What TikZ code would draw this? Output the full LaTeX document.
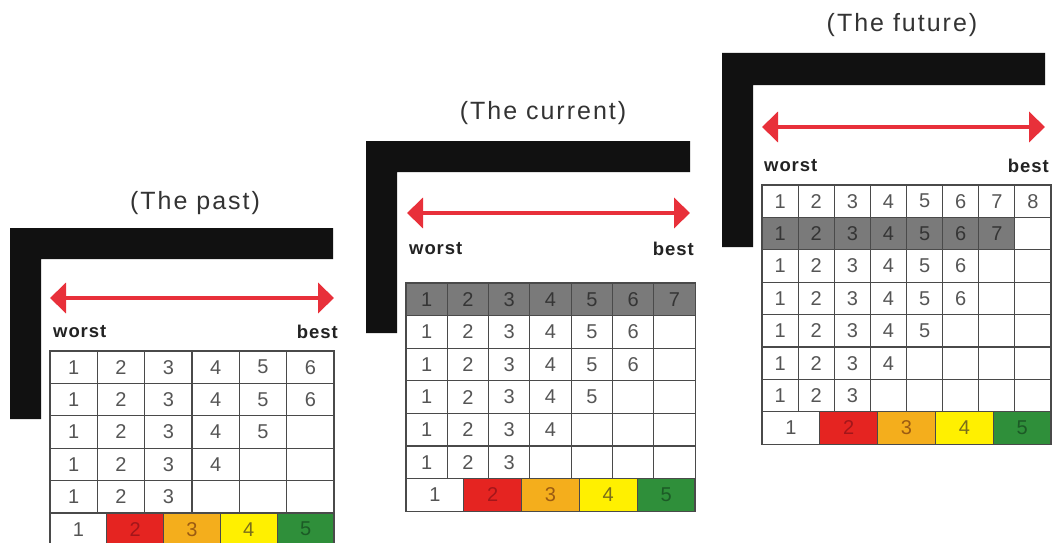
\documentclass[tikz,border=0pt]{standalone}
\usepackage{fontspec}
\setmainfont{Liberation Sans}
\usetikzlibrary{arrows.meta}
\definecolor{gridc}{HTML}{4A4A4A}
\definecolor{numc}{HTML}{555555}
\definecolor{titc}{HTML}{333333}
\definecolor{labc}{HTML}{222222}
\definecolor{lbar}{HTML}{111111}
\definecolor{arrc}{HTML}{E8303A}
\definecolor{cr}{HTML}{E52421}
\definecolor{crt}{HTML}{A3161A}
\definecolor{co}{HTML}{F4AE1C}
\definecolor{cot}{HTML}{9B5B12}
\definecolor{cy}{HTML}{FFF000}
\definecolor{cyt}{HTML}{7A6E1A}
\definecolor{cg}{HTML}{2F8F3A}
\definecolor{cgt}{HTML}{1C5A26}
\definecolor{cgray}{HTML}{7A7A7A}
\definecolor{cgrayt}{HTML}{353535}
\begin{document}
\begin{tikzpicture}[x=1pt,y=-1pt,
  cell/.style={draw=gridc, line width=1.1pt, inner sep=0pt, outer sep=0pt, text=numc, font=\fontsize{20}{20}\selectfont},
  graycell/.style={cell, fill=cgray, text=cgrayt},
  title/.style={text=titc, inner sep=0pt, font=\fontsize{25}{25}\selectfont\addfontfeature{LetterSpace=8}},
  lab/.style={text=labc, inner sep=0pt, font=\bfseries\fontsize{18.5}{18.5}\selectfont\addfontfeature{LetterSpace=5}},
  rarrow/.style={draw=arrc, line width=4pt, {Triangle[width=30pt,length=16pt,fill=arrc]}-{Triangle[width=30pt,length=16pt,fill=arrc]}}
]
\useasboundingbox (0,0) rectangle (1052,543);
\clip (0,0) rectangle (1052,543);

% ---------- The past ----------
\node[title] (tpast) at (195,203) {(The past)};
\fill[lbar] (10,228) -- (333,228) -- (333,259) -- (41,259) -- (41,419) -- (10,419) -- cycle;
\coordinate (pa1) at (50,298);
\coordinate (pa2) at (334,298);
\draw[rarrow] (pa1) -- (pa2);
\node[lab, anchor=west] (pworst) at (53,332) {worst};
\node[lab, anchor=east] (pbest) at (338,332) {best};
\foreach \n [count=\r] in {6,6,5,4,3} {
  \foreach \c in {1,...,6} {
    \node[cell, minimum width=47.33, minimum height=32.4] (p\r-\c)
      at ({50+(\c-0.5)*47.33},{351+(\r-0.5)*32.4}) {\ifnum\c>\n\relax\else\c\fi};
  }
}
\foreach \f/\t [count=\i] in {white/numc, cr/crt, co/cot, cy/cyt, cg/cgt} {
  \node[cell, fill=\f, text=\t, minimum width=56.8, minimum height=32.4] (pb\i)
    at ({50+(\i-0.5)*56.8},529.2) {\i};
}

% ---------- The current ----------
\node[title] (tcur) at (543,113) {(The current)};
\fill[lbar] (366,141) -- (690,141) -- (690,172) -- (397,172) -- (397,333) -- (366,333) -- cycle;
\coordinate (ca1) at (407,213);
\coordinate (ca2) at (690,213);
\draw[rarrow] (ca1) -- (ca2);
\node[lab, anchor=west] (cworst) at (409,249) {worst};
\node[lab, anchor=east] (cbest) at (694,249) {best};
\foreach \c in {1,...,7} {
  \node[graycell, minimum width=41.3, minimum height=32.6] (c0-\c)
    at ({406+(\c-0.5)*41.3},{283+0.5*32.6}) {\c};
}
\foreach \n [count=\r] in {6,6,5,4,3} {
  \foreach \c in {1,...,7} {
    \node[cell, minimum width=41.3, minimum height=32.6] (c\r-\c)
      at ({406+(\c-0.5)*41.3},{283+(\r+0.5)*32.6}) {\ifnum\c>\n\relax\else\c\fi};
  }
}
\foreach \f/\t [count=\i] in {white/numc, cr/crt, co/cot, cy/cyt, cg/cgt} {
  \node[cell, fill=\f, text=\t, minimum width=57.8, minimum height=32.6] (cb\i)
    at ({406+(\i-0.5)*57.8},{283+6.5*32.6}) {\i};
}

% ---------- The future ----------
\node[title] (tfut) at (902,25) {(The future)};
\fill[lbar] (722,53) -- (1045,53) -- (1045,85) -- (753,85) -- (753,247) -- (722,247) -- cycle;
\coordinate (fa1) at (762,127);
\coordinate (fa2) at (1045,127);
\draw[rarrow] (fa1) -- (fa2);
\node[lab, anchor=west] (fworst) at (764,166) {worst};
\node[lab, anchor=east] (fbest) at (1049,166) {best};
\foreach \c in {1,...,8} {
  \node[cell, minimum width=36.125, minimum height=32.4] (f0-\c)
    at ({762+(\c-0.5)*36.125},{185+0.5*32.4}) {\c};
}
\foreach \c in {1,...,7} {
  \node[graycell, minimum width=36.125, minimum height=32.4] (fg-\c)
    at ({762+(\c-0.5)*36.125},{185+1.5*32.4}) {\c};
}
\node[cell, minimum width=36.125, minimum height=32.4] (fg-8)
  at ({762+7.5*36.125},{185+1.5*32.4}) {};
\foreach \n [count=\r] in {6,6,5,4,3} {
  \foreach \c in {1,...,8} {
    \node[cell, minimum width=36.125, minimum height=32.4] (f\r-\c)
      at ({762+(\c-0.5)*36.125},{185+(\r+1.5)*32.4}) {\ifnum\c>\n\relax\else\c\fi};
  }
}
\foreach \f/\t [count=\i] in {white/numc, cr/crt, co/cot, cy/cyt, cg/cgt} {
  \node[cell, fill=\f, text=\t, minimum width=57.8, minimum height=32.4] (fb\i)
    at ({762+(\i-0.5)*57.8},{185+7.5*32.4}) {\i};
}
\end{tikzpicture}
\end{document}
